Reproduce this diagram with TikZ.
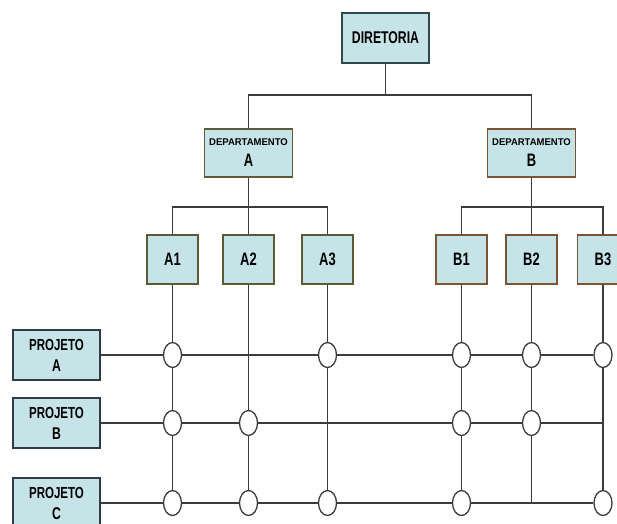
\documentclass[tikz,border=0pt]{standalone}
\usepackage{fontspec}
\setmainfont{Liberation Sans}
\newfontfamily\condfont[FakeStretch=0.72]{Liberation Sans}
\newfontfamily\deptfont[FakeStretch=0.97]{Liberation Sans}
\usetikzlibrary{shapes.geometric,shadows,backgrounds}

\definecolor{boxfill}{HTML}{C6E4E7}
\definecolor{wirecol}{HTML}{3C3C3C}
\definecolor{edgeA}{HTML}{5C5A38}
\definecolor{edgeB}{HTML}{7A5535}
\definecolor{edgeD}{HTML}{2E4A4A}
\definecolor{edgeP}{HTML}{2F3B45}

\tikzset{
  orgbox/.style={draw=#1, fill=boxfill, line width=1.3pt, inner sep=0pt,
    align=center, drop shadow={shadow xshift=0.8pt, shadow yshift=-0.8pt, opacity=0.35}},
  topbox/.style={orgbox=edgeD, minimum width=87pt, minimum height=50pt,
    font=\condfont\bfseries\fontsize{17}{17}\selectfont},
  deptbox/.style={orgbox=#1, minimum width=88pt, minimum height=48pt,
    font=\condfont\bfseries\fontsize{17}{17}\selectfont},
  unitbox/.style={orgbox=#1, minimum width=51pt, minimum height=49pt,
    font=\condfont\bfseries\fontsize{18}{18}\selectfont},
  projbox/.style={orgbox=edgeP, minimum width=87pt, minimum height=50pt,
    font=\condfont\bfseries\fontsize{16}{21}\selectfont},
  jn/.style={ellipse, draw=wirecol, fill=white, line width=1.3pt,
    minimum width=18pt, minimum height=25pt, inner sep=0pt},
  link/.style={draw=wirecol, line width=1.3pt}
}
\newcommand{\depname}{{\deptfont\bfseries\fontsize{9.8}{10}\selectfont DEPARTAMENTO}}
\newcommand{\bigletter}[2]{{\condfont\bfseries\fontsize{#1}{#1}\selectfont #2}}

\begin{document}
\begin{tikzpicture}[x=1pt,y=-1pt]
  \useasboundingbox (0,0) rectangle (617,523);
  \clip (0,0) rectangle (617,523);
  % hierarchy
  \node[topbox] (dir) at (385.5,38) {DIRETORIA};
  \node[deptbox=edgeA] (depA) at (248.5,153) {\depname\\[4pt]\bigletter{18}{A}};
  \node[deptbox=edgeB] (depB) at (531.5,153) {\depname\\[4pt]\bigletter{18}{B}};
  \foreach \n/\x in {A1/172.5,A2/248.5,A3/327.5}
    \node[unitbox=edgeA] (\n) at (\x,259.5) {\n};
  \foreach \n/\x in {B1/461.5,B2/531.5,B3/603}
    \node[unitbox=edgeB] (\n) at (\x,259.5) {\n};
  % projects
  \foreach \p/\y in {A/355,B/423,C/503}
    \node[projbox] (p\p) at (56.5,\y) {PROJETO\\\bigletter{17}{\p}};
  % junctions
  \foreach \r/\u in {A/A1,A/A3,A/B1,A/B2,A/B3,B/A1,B/A2,B/B1,B/B2,
                     C/A1,C/A2,C/A3,C/B1,C/B3}
    \node[jn] (j\r\u) at (\u |- p\r) {};
  \coordinate (tB) at (B3 |- pB);
  \coordinate (tC) at (B2 |- pC);

  \begin{pgfonlayer}{background}
    \draw[link] (dir) -- ++(0,57) coordinate (busD);
    \draw[link] (depA) |- (busD) -| (depB);
    \draw[link] (depA) -- ++(0,54) coordinate (busA);
    \draw[link] (A1) |- (busA) -| (A3);
    \draw[link] (A2) -- (depA);
    \draw[link] (depB) -- ++(0,54) coordinate (busB);
    \draw[link] (B1) |- (busB) -| (B3);
    \draw[link] (B2) -- (depB);
    % project rows
    \draw[link] (pA) -- (jAB3);
    \draw[link] (pB) -- (tB);
    \draw[link] (pC) -- (jCB3);
    % unit columns
    \draw[link] (A1) -- (jCA1);
    \draw[link] (A2) -- (jCA2);
    \draw[link] (A3) -- (jCA3);
    \draw[link] (B1) -- (jCB1);
    \draw[link] (B2) -- (tC);
    \draw[link] (B3) -- (jCB3);
  \end{pgfonlayer}
\end{tikzpicture}
\end{document}
